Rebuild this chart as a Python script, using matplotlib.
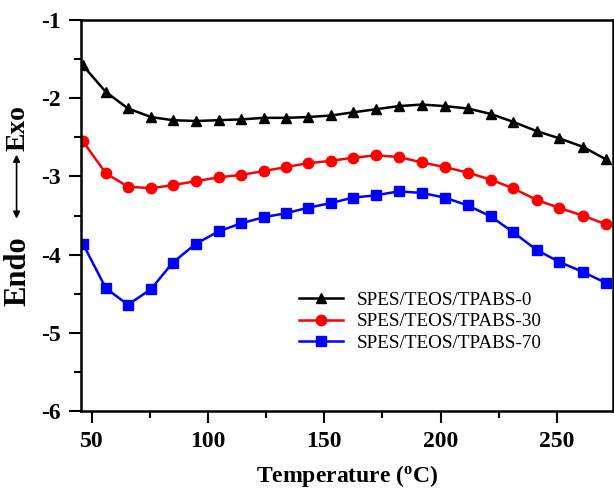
import matplotlib
matplotlib.use("Agg")
import matplotlib.pyplot as plt
from matplotlib.ticker import MultipleLocator
from matplotlib.patches import FancyArrowPatch

temperature = [46.1, 56.0, 65.5, 75.4, 84.8, 94.7, 104.6, 114.1, 124.0, 133.4, 142.9, 152.8,
               162.3, 172.2, 182.0, 191.9, 201.8, 211.7, 221.6, 231.1, 241.4, 250.9, 261.2, 271.1]
tpabs_0 = [-1.58, -1.92, -2.13, -2.24, -2.28, -2.29, -2.28, -2.27, -2.25, -2.25, -2.24, -2.22,
           -2.18, -2.14, -2.10, -2.08, -2.10, -2.13, -2.20, -2.30, -2.42, -2.51, -2.62, -2.78]
tpabs_30 = [-2.55, -2.96, -3.13, -3.15, -3.11, -3.06, -3.01, -2.98, -2.93, -2.88, -2.83, -2.80,
            -2.76, -2.73, -2.75, -2.82, -2.88, -2.95, -3.04, -3.15, -3.30, -3.40, -3.50, -3.61]
tpabs_70 = [-3.86, -4.43, -4.64, -4.44, -4.10, -3.86, -3.70, -3.60, -3.52, -3.47, -3.40, -3.34,
            -3.27, -3.24, -3.19, -3.21, -3.27, -3.37, -3.51, -3.71, -3.94, -4.09, -4.22, -4.36]
labels = ["SPES/TEOS/TPABS-0", "SPES/TEOS/TPABS-30", "SPES/TEOS/TPABS-70"]

plt.rcParams['font.family'] = ['Liberation Serif', 'DejaVu Serif']
plt.rcParams['axes.unicode_minus'] = False
plt.rcParams['mathtext.default'] = 'regular'

fig = plt.figure(figsize=(6.14, 4.90), dpi=100)
ax = fig.add_axes([0.132, 0.161, 0.866, 0.798])

ax.plot(temperature, tpabs_0, color='black', marker='^', ms=7.5, lw=1.8, label=labels[0])
ax.plot(temperature, tpabs_30, color='red', marker='o', ms=7.5, lw=1.8, label=labels[1])
ax.plot(temperature, tpabs_70, color='blue', marker='s', ms=7, lw=1.8, label=labels[2])

ax.set_xlim(45.3, 274.1)
ax.set_ylim(-6, -1)
ax.xaxis.set_major_locator(MultipleLocator(50))
ax.xaxis.set_minor_locator(MultipleLocator(25))
ax.yaxis.set_major_locator(MultipleLocator(1))
ax.yaxis.set_minor_locator(MultipleLocator(0.5))
ax.tick_params(which='major', direction='out', length=8.5, width=1.5, labelsize=17, pad=6)
ax.tick_params(which='minor', direction='out', length=5, width=1.5)
ax.tick_params(top=False, right=False, which='both')
for lab in ax.get_xticklabels() + ax.get_yticklabels():
    lab.set_fontweight('bold')
for s in ax.spines.values():
    s.set_linewidth(1.8)

ax.set_xlabel('Temperature ($^{o}$C)', fontsize=17, fontweight='bold', labelpad=8)

# Y label: Endo <-> Exo
fig.text(0.029, 0.738, 'Exo', rotation=90, fontsize=20, fontweight='bold', ha='center', va='center')
fig.text(0.029, 0.447, 'Endo', rotation=90, fontsize=22, fontweight='bold', ha='center', va='center')
fig.add_artist(FancyArrowPatch((0.027, 0.548), (0.027, 0.69), transform=fig.transFigure,
               arrowstyle='<|-|>', mutation_scale=10, lw=1.2, color='black'))

leg = ax.legend(loc='upper left', bbox_to_anchor=(0.392, 0.33), frameon=False, fontsize=13.8,
                handlelength=2.3, labelspacing=0.2, handletextpad=0.7, borderpad=0)

fig.savefig('out.png', dpi=100)
